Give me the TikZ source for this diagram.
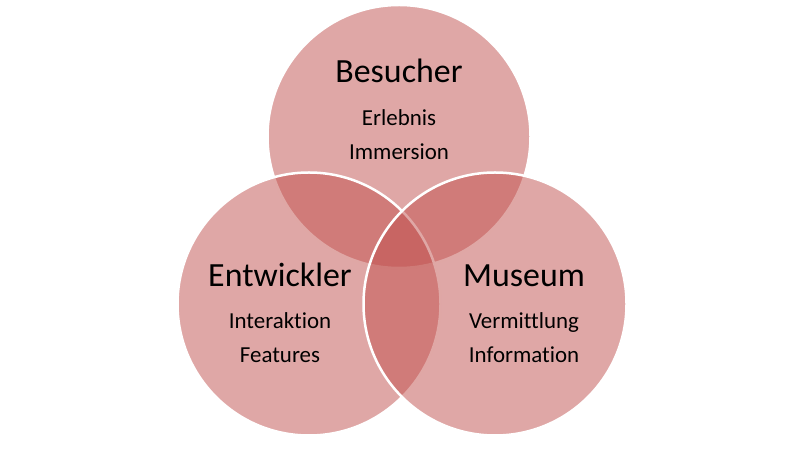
\documentclass[tikz,border=0pt]{standalone}
\usepackage{fontspec}
\setmainfont{Carlito}[Ligatures=NoCommon]
\definecolor{vennred}{HTML}{C0504D}
\tikzset{
  venn/.style={circle, inner sep=0pt, minimum size=263bp, fill=vennred,
    fill opacity=0.5, draw=white, line width=2.5bp},
  title/.style={anchor=base, inner sep=0pt, font=\fontsize{34}{40}\selectfont, text=black},
  item/.style={anchor=base, inner sep=0pt, font=\fontsize{23}{27}\selectfont, text=black}
}
\begin{document}
\begin{tikzpicture}[x=1bp, y=-1bp]
  \useasboundingbox (0,0) rectangle (800,449);
  % the three overlapping circles, drawn top, left, right
  \node[venn] (besucher) at (399,136.5) {};
  \node[venn] (entwickler) at (309,304) {};
  \node[venn] (museum) at (495,304) {};
  % labels
  \node[title] (tB) at (399,83) {Besucher};
  \node[item] (tB1) at (399,126) {Erlebnis};
  \node[item] (tB2) at (399,160) {Immersion};
  \node[title] (tE) at (280,287) {Entwickler};
  \node[item] (tE1) at (280,329) {Interaktion};
  \node[item] (tE2) at (280,363) {Features};
  \node[title] (tM) at (524,287) {Museum};
  \node[item] (tM1) at (524,329) {Vermittlung};
  \node[item] (tM2) at (524,363) {Information};
\end{tikzpicture}
\end{document}
